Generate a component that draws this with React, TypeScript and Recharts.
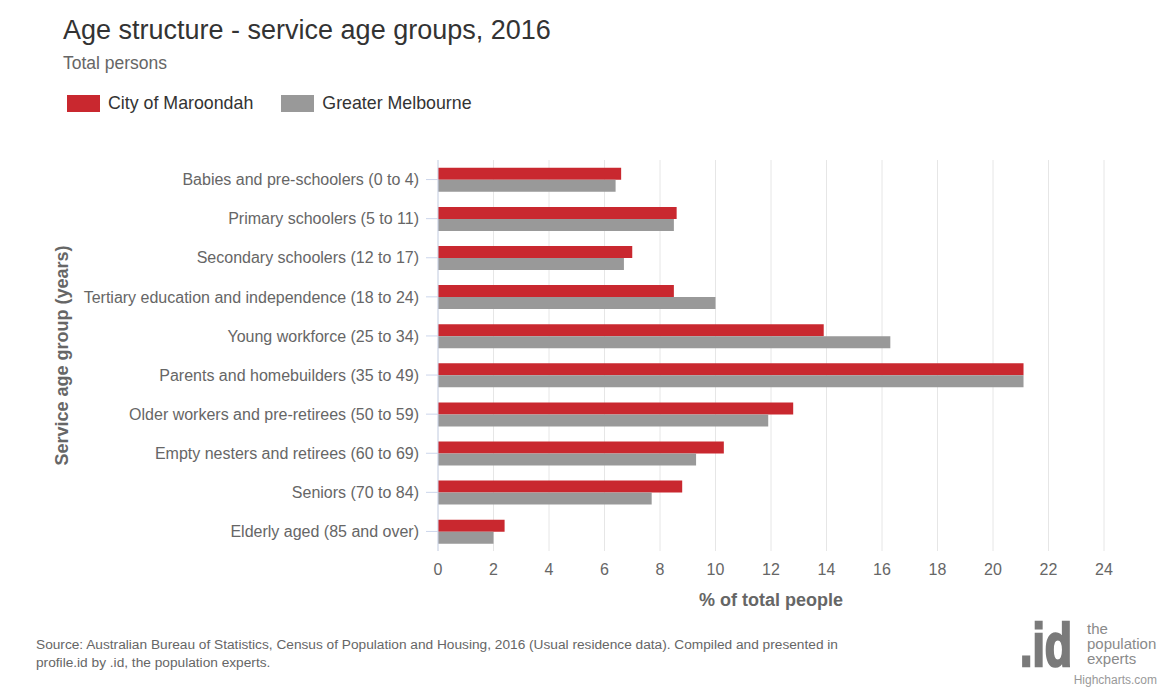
import React from 'react';
import { BarChart, Bar, XAxis, YAxis, CartesianGrid } from 'recharts';

const categories = [
  'Babies and pre-schoolers (0 to 4)',
  'Primary schoolers (5 to 11)',
  'Secondary schoolers (12 to 17)',
  'Tertiary education and independence (18 to 24)',
  'Young workforce (25 to 34)',
  'Parents and homebuilders (35 to 49)',
  'Older workers and pre-retirees (50 to 59)',
  'Empty nesters and retirees (60 to 69)',
  'Seniors (70 to 84)',
  'Elderly aged (85 and over)',
];
const maroondah = [6.6, 8.6, 7.0, 8.5, 13.9, 21.1, 12.8, 10.3, 8.8, 2.4];
const melbourne = [6.4, 8.5, 6.7, 10.0, 16.3, 21.1, 11.9, 9.3, 7.7, 2.0];
const xTicks = [0, 2, 4, 6, 8, 10, 12, 14, 16, 18, 20, 22, 24];

const seriesNames = ['City of Maroondah', 'Greater Melbourne'];
const seriesColors = ['#c9282f', '#999999'];
const logoLines = ['the', 'population', 'experts'];

const data = categories.map((c, i) => ({
  name: c,
  maroondah: maroondah[i],
  melbourne: melbourne[i],
}));

const FONT = '"Liberation Sans", Arial, Helvetica, sans-serif';
const NARROW = '"Liberation Sans Narrow", "Liberation Sans", Arial, sans-serif';

const YLabel = (props: any) => {
  const vb = props.viewBox || {};
  const cx = 62;
  const cy = vb.y + vb.height / 2;
  return (
    <text
      x={cx}
      y={cy}
      transform={`rotate(-90 ${cx} ${cy})`}
      textAnchor="middle"
      dominantBaseline="central"
      fill="#666"
      fontFamily={FONT}
      fontSize={18}
      fontWeight="bold"
    >
      Service age group (years)
    </text>
  );
};

const XLabel = (props: any) => {
  const vb = props.viewBox || {};
  const cx = vb.x + vb.width / 2;
  return (
    <text
      x={cx}
      y={600}
      textAnchor="middle"
      dominantBaseline="central"
      fill="#666"
      fontFamily={FONT}
      fontSize={18}
      fontWeight="bold"
    >
      % of total people
    </text>
  );
};

export default function App() {
  return (
    <div style={{ position: 'absolute', left: 0, top: 0, width: 1162, height: 692, background: '#fff', fontFamily: FONT }}>
      <div style={{ position: 'absolute', left: 63, top: 14, fontSize: 27, color: '#333', whiteSpace: 'nowrap', lineHeight: '32px' }}>
        Age structure - service age groups, 2016
      </div>
      <div style={{ position: 'absolute', left: 63, top: 53, fontSize: 17.5, color: '#666', whiteSpace: 'nowrap', lineHeight: '20px' }}>
        Total persons
      </div>
      <div style={{ position: 'absolute', left: 67, top: 92, display: 'flex', alignItems: 'center', fontSize: 17.8, color: '#333', lineHeight: '22px' }}>
        {seriesNames.map((n, i) => (
          <div key={n} style={{ display: 'flex', alignItems: 'center', marginRight: 28 }}>
            <div style={{ width: 33, height: 17, background: seriesColors[i], marginRight: 8 }} />
            <span style={{ whiteSpace: 'nowrap' }}>{n}</span>
          </div>
        ))}
      </div>
      <BarChart
        width={1162}
        height={692}
        data={data}
        layout="vertical"
        margin={{ top: 160, right: 58, bottom: 81, left: 0 }}
        barCategoryGap="20%"
        barGap={0}
      >
        <CartesianGrid horizontal={false} stroke="#e6e6e6" />
        <XAxis
          type="number"
          domain={[0, 24]}
          ticks={xTicks}
          interval={0}
          height={60}
          axisLine={false}
          tickLine={false}
          tickSize={0}
          tickMargin={13}
          tick={{ fill: '#666', fontSize: 16, fontFamily: FONT }}
          label={<XLabel />}
        />
        <YAxis
          type="category"
          dataKey="name"
          width={438}
          interval={0}
          axisLine={{ stroke: '#ccd6eb' }}
          tickLine={{ stroke: '#ccd6eb' }}
          tickSize={12}
          tickMargin={7}
          tick={{ fill: '#666', fontSize: 16, fontFamily: FONT }}
          label={<YLabel />}
        />
        <Bar dataKey="maroondah" name={seriesNames[0]} fill={seriesColors[0]} isAnimationActive={false} />
        <Bar dataKey="melbourne" name={seriesNames[1]} fill={seriesColors[1]} isAnimationActive={false} />
      </BarChart>
      <div style={{ position: 'absolute', left: 36, top: 636, fontSize: 13.7, color: '#666', lineHeight: '18px', width: 880, whiteSpace: 'nowrap' }}>
        Source: Australian Bureau of Statistics, Census of Population and Housing, 2016 (Usual residence data). Compiled and presented in
        <br />
        profile.id by .id, the population experts.
      </div>
      <div
        style={{
          position: 'absolute',
          left: 1020,
          top: 614,
          fontSize: 62,
          fontWeight: 'bold',
          color: '#7a7a7a',
          lineHeight: '62px',
          transform: 'scaleX(0.72)',
          transformOrigin: 'left top',
          whiteSpace: 'nowrap',
          WebkitTextStroke: '2.5px #7a7a7a',
        }}
      >
        .id
      </div>
      {logoLines.map((t, i) => (
        <div
          key={t}
          style={{ position: 'absolute', left: 1087, top: 621 + i * 15, fontSize: 15, color: '#8a8a8a', lineHeight: '15px', fontFamily: NARROW, whiteSpace: 'nowrap' }}
        >
          {t}
        </div>
      ))}
      <div style={{ position: 'absolute', right: 5, top: 673, fontSize: 12, color: '#999', whiteSpace: 'nowrap' }}>Highcharts.com</div>
    </div>
  );
}
